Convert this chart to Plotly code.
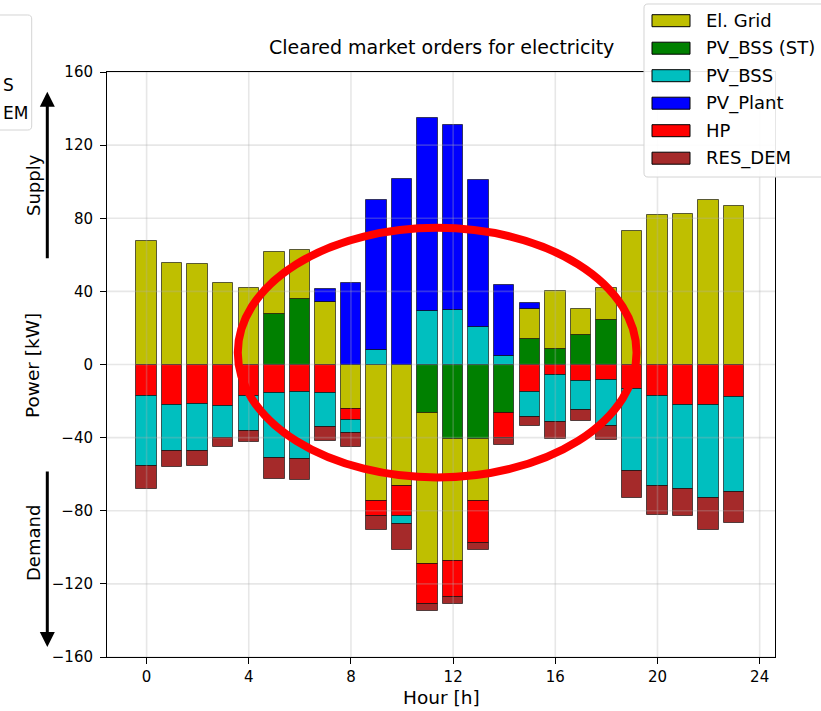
import plotly.graph_objects as go

# ---- data -------------------------------------------------------------
hours = list(range(24))

el_grid = [67.5, 55.5, 54.9, 44.7, 42.0, 33.8, 26.4, 34.1, -24.6, -74.4, -66.2, -82.7,
           -67.0, -34.3, None, 16.8, 31.4, 14.1, 17.3, 73.1, 81.6, 82.3, 89.8, 86.7]
pv_bss_st = [None, None, None, None, None, 27.7, 36.0, None, None, None, None, -26.3,
             -40.5, -40.5, -26.3, 13.7, 8.6, 16.4, 24.6, None, None, None, None, None]
pv_bss = [-38.3, -25.4, -25.6, -17.4, -19.1, -35.4, -36.3, -18.8, -7.1, 7.8, -4.2, 29.0,
          29.6, 20.5, 4.6, -13.7, -25.5, -15.8, -25.2, -45.2, -49.1, -45.9, -51.0, -52.3]
pv_plant = [None, None, None, None, None, None, None, 7.3, 44.5, 82.4, 101.6, 105.7,
            101.5, 80.3, 38.7, 3.1, None, None, None, None, None, None, None, None]
hp = [-17.0, -22.1, -21.5, -22.8, -17.0, -15.7, -15.2, -15.5, -5.7, -8.5, -16.7, -21.9,
      -19.7, -22.7, -13.9, -15.0, -5.9, -9.2, -8.6, -13.3, -17.1, -22.1, -22.1, -17.6]
res_dem = [-12.7, -8.7, -8.6, -5.1, -6.4, -11.5, -11.7, -7.3, -7.9, -7.5, -14.2, -3.7,
           -4.0, -3.8, -3.6, -4.9, -9.1, -5.9, -7.7, -14.5, -15.9, -14.8, -17.3, -16.9]

x_ticks = [0, 4, 8, 12, 16, 20, 24]
y_ticks = [-160, -120, -80, -40, 0, 40, 80, 120, 160]

# legend order (top to bottom) and colours
legend_names = ["El. Grid", "PV_BSS (ST)", "PV_BSS", "PV_Plant", "HP", "RES_DEM"]
legend_colors = ["#bfbf00", "#008000", "#00bfbf", "#0000ff", "#ff0000", "#a52a2a"]

# stacking order away from zero
series = {
    "PV_BSS (ST)": pv_bss_st,
    "El. Grid": el_grid,
    "HP": hp,
    "PV_BSS": pv_bss,
    "RES_DEM": res_dem,
    "PV_Plant": pv_plant,
}

# ---- geometry ----------------------------------------------------------
W, H = 821, 711
L, R, T, B = 107, 775, 72, 657
FONT = "DejaVu Sans"


def px_x(px):
    return (px - L) / (R - L)


def px_y(py):
    return (B - py) / (B - T)


def rounded_box(x0, y0, x1, y1, r):
    pts = lambda x, y: f"{px_x(x):.5f},{px_y(y):.5f}"
    return (f"M {pts(x0 + r, y0)} L {pts(x1 - r, y0)} Q {pts(x1, y0)} {pts(x1, y0 + r)} "
            f"L {pts(x1, y1 - r)} Q {pts(x1, y1)} {pts(x1 - r, y1)} "
            f"L {pts(x0 + r, y1)} Q {pts(x0, y1)} {pts(x0, y1 - r)} "
            f"L {pts(x0, y0 + r)} Q {pts(x0, y0)} {pts(x0 + r, y0)} Z")


def text_note(text, x, y, size, xanchor="center", angle=0):
    return dict(text=text, xref="paper", yref="paper", x=px_x(x), y=px_y(y),
                xanchor=xanchor, yanchor="middle", textangle=angle, showarrow=False,
                font=dict(family=FONT, size=size, color="#000000"))


fig = go.Figure()
color_of = dict(zip(legend_names, legend_colors))
for name, vals in series.items():
    fig.add_trace(go.Bar(
        x=hours, y=vals, name=name, width=0.8,
        marker=dict(color=color_of[name], line=dict(color="rgba(0,0,0,0.6)", width=1)),
        showlegend=False,
    ))

shapes = []
# grid drawn over the bars, semi-transparent
for xv in x_ticks:
    shapes.append(dict(type="line", xref="x", yref="paper", x0=xv, x1=xv, y0=0, y1=1,
                       line=dict(color="rgba(176,176,176,0.3)", width=1.6), layer="above"))
for yv in y_ticks:
    shapes.append(dict(type="line", xref="paper", yref="y", x0=0, x1=1, y0=yv, y1=yv,
                       line=dict(color="rgba(176,176,176,0.3)", width=1.6), layer="above"))

# highlighted midday region
shapes.append(dict(type="circle", xref="x", yref="y", x0=3.57, x1=19.18, y0=-61.8, y1=74.8,
                   line=dict(color="#ff0000", width=8), layer="above"))

# legend box and patches
shapes.append(dict(type="path", xref="paper", yref="paper",
                   path=rounded_box(644, 4, 835, 177, 4),
                   line=dict(color="#d4d4d4", width=1), fillcolor="rgba(255,255,255,0.9)",
                   layer="above"))
row_y0, row_step = 20.7, 27.5
annotations = []
for i, (name, col) in enumerate(zip(legend_names, legend_colors)):
    cy = row_y0 + i * row_step
    shapes.append(dict(type="rect", xref="paper", yref="paper",
                       x0=px_x(652), x1=px_x(690), y0=px_y(cy + 6), y1=px_y(cy - 6),
                       line=dict(color="#000000", width=1), fillcolor=col, layer="above"))
    annotations.append(text_note(name, 704, cy, 18, xanchor="left"))

# second legend frame at the left border
shapes.append(dict(type="path", xref="paper", yref="paper",
                   path=rounded_box(-20, 15, 31.7, 130, 4),
                   line=dict(color="#d4d4d4", width=1), fillcolor="rgba(255,255,255,0.9)",
                   layer="above"))
annotations.append(text_note("S", 0.5, 85, 17, xanchor="left"))
annotations.append(text_note("EM", 0.5, 113, 17, xanchor="left"))

# title and axis titles
annotations.append(text_note("Cleared market orders for electricity", (L + R) / 2, 47, 19))
annotations.append(text_note("Power [kW]", 32, 366, 18.5, angle=-90))
annotations.append(text_note("Hour [h]", (L + R) / 2, 697, 18.5))
annotations.append(text_note("Supply", 33, 185, 18, angle=-90))
annotations.append(text_note("Demand", 33, 543, 18, angle=-90))

# supply / demand arrows
annotations.append(dict(text="", xref="paper", yref="paper", x=px_x(47.3), y=px_y(91.7),
                        ax=0, ay=168, showarrow=True, arrowhead=2, arrowwidth=3,
                        arrowsize=1, arrowcolor="#000000"))
annotations.append(dict(text="", xref="paper", yref="paper", x=px_x(47.3), y=px_y(647),
                        ax=0, ay=-177, showarrow=True, arrowhead=2, arrowwidth=3,
                        arrowsize=1, arrowcolor="#000000"))

axis_common = dict(showline=True, mirror=True, linecolor="#000000", linewidth=1,
                   ticks="outside", ticklen=6, tickcolor="#000000", tickwidth=1,
                   showgrid=False, zeroline=False,
                   tickfont=dict(family=FONT, size=15, color="#000000"))

fig.update_layout(
    width=W, height=H,
    margin=dict(l=L, r=W - R, t=T, b=H - B, autoexpand=False),
    barmode="relative",
    bargap=0,
    plot_bgcolor="#ffffff", paper_bgcolor="#ffffff",
    xaxis=dict(range=[-1.55, 24.6], tickvals=x_ticks, **axis_common),
    yaxis=dict(range=[-160, 160], tickvals=y_ticks, ticklabelstandoff=4, **axis_common),
    shapes=shapes,
    annotations=annotations,
    font=dict(family=FONT),
)

fig.write_html("out.html")
